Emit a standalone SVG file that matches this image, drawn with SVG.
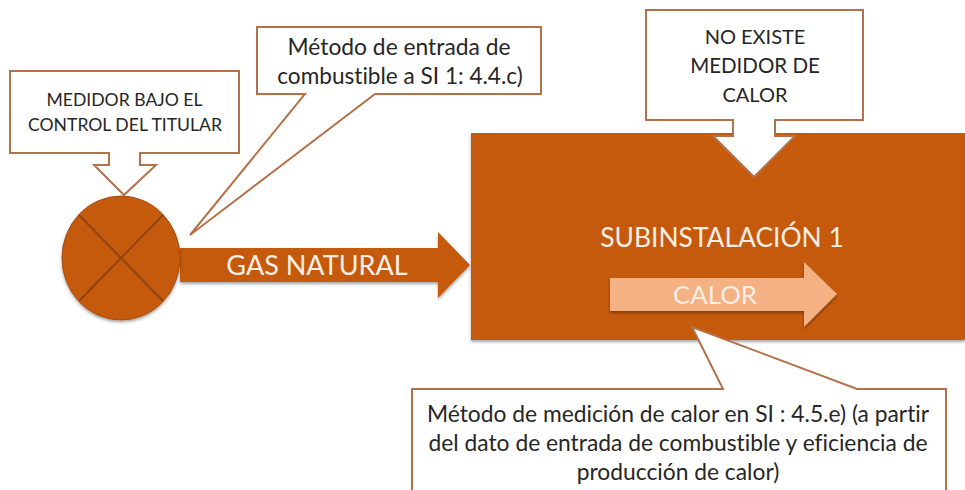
<svg xmlns="http://www.w3.org/2000/svg" width="965" height="490" viewBox="0 0 965 490">
<defs>
<style>
text{font-family:"Lato","Liberation Sans",sans-serif;text-anchor:middle;font-variant-ligatures:none}
.call{fill:#fff;stroke:#b5714a;stroke-width:2}
.o{fill:#c55a11}
.dk{fill:#262626}
.wh{fill:#fbeee4}
.ln{stroke:#8f4410;stroke-width:2;fill:none}
</style>
<filter id="sh" x="-5%" y="-5%" width="110%" height="115%"><feDropShadow dx="0" dy="2" stdDeviation="1.5" flood-color="#000" flood-opacity="0.35"/></filter>
</defs>
<rect width="965" height="490" fill="#fff"/>
<g id="subinstalacion">
<rect class="o" x="471" y="133" width="494" height="207" filter="url(#sh)"/>
<text class="wh" x="722" y="247" font-size="26.4">SUBINSTALACIÓN 1</text>
</g>
<g id="connectors">
<g id="gas-natural">
<path class="o" d="M180 248H438V232L470 265L438 298V282H180Z" filter="url(#sh)"/>
<text class="wh" x="317" y="275" font-size="27">GAS NATURAL</text>
</g>
<g id="calor">
<path fill="#f4b183" d="M610 278H804V262L837 294L804 327V311H610Z" filter="url(#sh)"/>
<text class="wh" x="715" y="304" font-size="25.8">CALOR</text>
</g>
</g>
<g id="medidor">
<ellipse class="o" cx="121" cy="258" rx="59" ry="62" stroke="#a64b0e" stroke-width="1" filter="url(#sh)"/>
<path class="ln" d="M79 215L163 301M163 215L79 301"/>
</g>
<g id="callout-medidor">
<path class="call" d="M10 71H239V153H140V165H156L124 195L94 165H109V153H10Z"/>
<text class="dk" x="124.500" y="106" font-size="17.6">MEDIDOR BAJO EL</text>
<text class="dk" x="125" y="131" font-size="17.6">CONTROL DEL TITULAR</text>
</g>
<g id="callout-entrada">
<path class="call" d="M257 27H541V94H375L190 235L305 94H257Z"/>
<text class="dk" x="399" y="55" font-size="22.8">Método de entrada de</text>
<text class="dk" x="400" y="84" font-size="22.6">combustible a SI 1: 4.4.c)</text>
</g>
<g id="callout-no-existe">
<path class="call" d="M646 10H863V120H775V136H795L754 177L713 136H733V120H646Z"/>
<text class="dk" x="755" y="44" font-size="20">NO EXISTE</text>
<text class="dk" x="755" y="73" font-size="20.500">MEDIDOR DE</text>
<text class="dk" x="755" y="102" font-size="20">CALOR</text>
</g>
<g id="callout-medicion">
<path class="call" d="M412 490V389H723L692 327L857 389H946V490"/>
<text class="dk" x="678" y="422" font-size="22.8">Método de medición de calor en SI : 4.5.e) (a partir</text>
<text class="dk" x="678" y="451" font-size="22.8">del dato de entrada de combustible y eficiencia de</text>
<text class="dk" x="678" y="480" font-size="22.8">producción de calor)</text>
</g>
</svg>
